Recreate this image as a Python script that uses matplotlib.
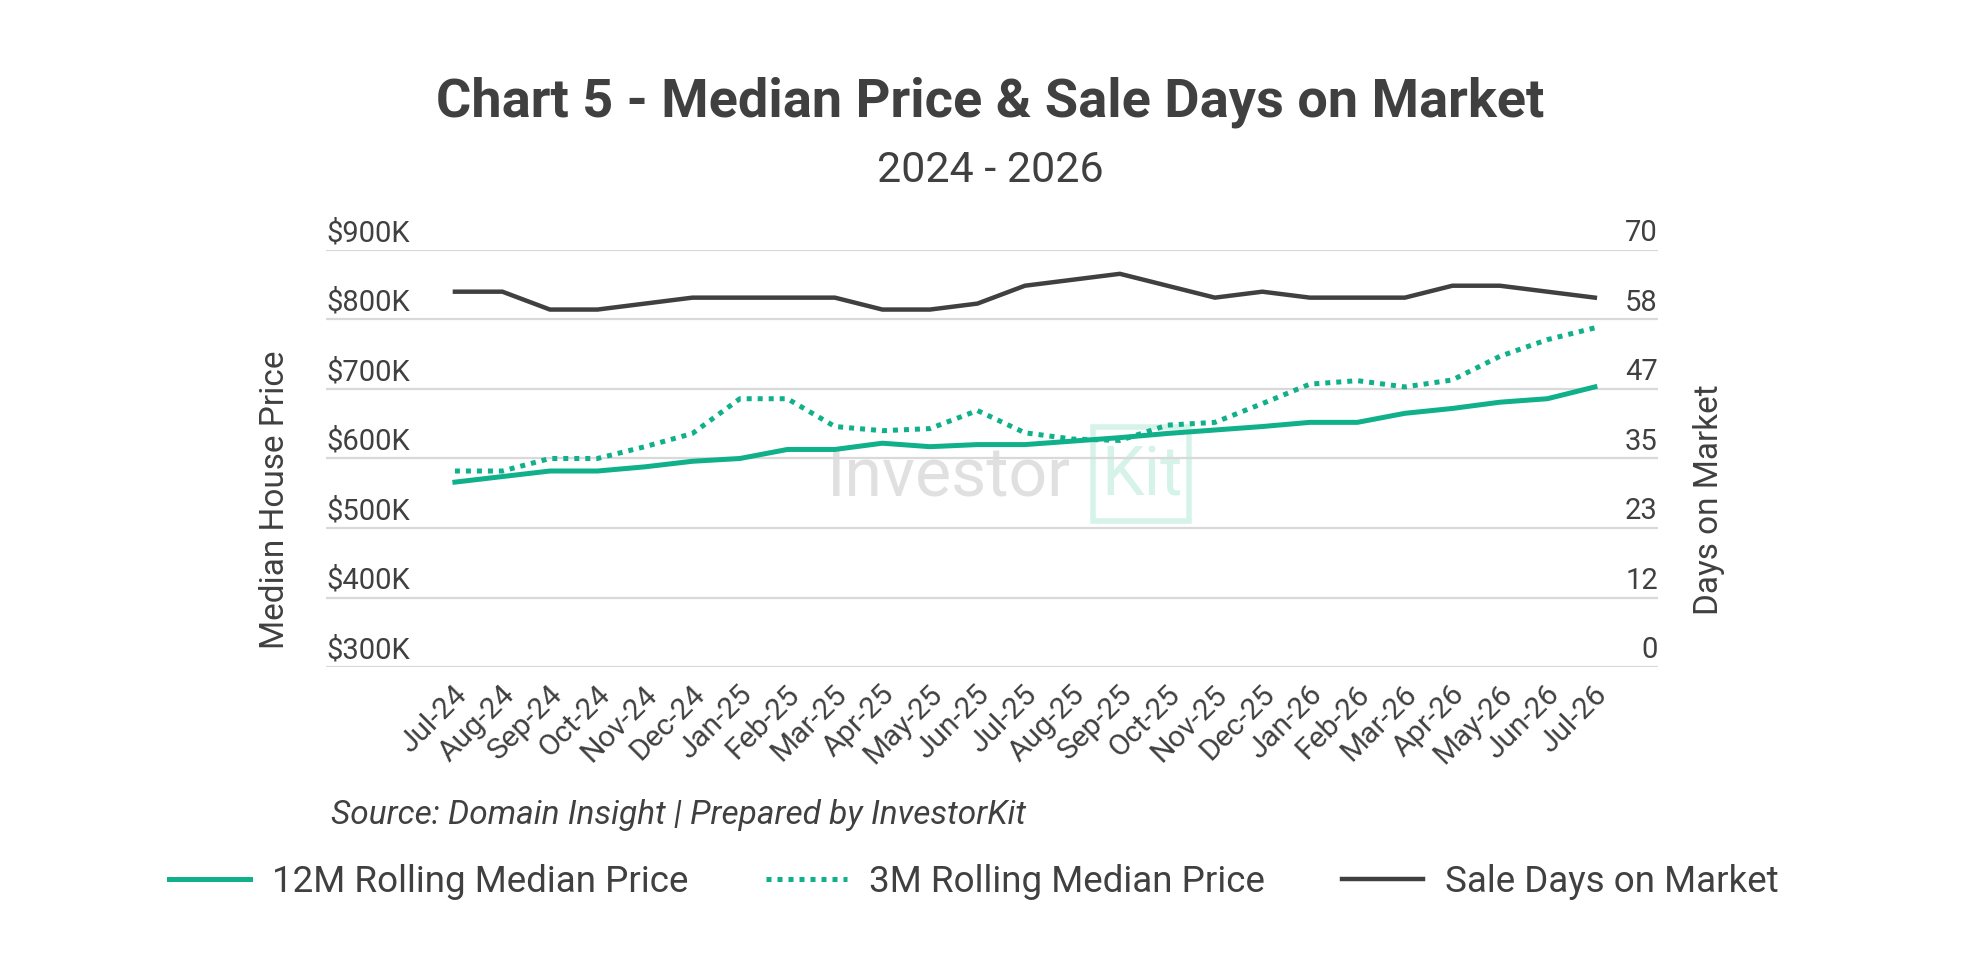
import numpy as np
import matplotlib
matplotlib.use('Agg')
import matplotlib.pyplot as plt
from matplotlib.patches import Rectangle
from matplotlib.transforms import ScaledTranslation

# Chart 5 - median price & days on market

plt.rcParams['font.family'] = ['Roboto', 'DejaVu Sans']

# Data (prices in $K, days on market)
months = ['Jul-24', 'Aug-24', 'Sep-24', 'Oct-24', 'Nov-24', 'Dec-24', 'Jan-25', 'Feb-25',
          'Mar-25', 'Apr-25', 'May-25', 'Jun-25', 'Jul-25', 'Aug-25', 'Sep-25', 'Oct-25',
          'Nov-25', 'Dec-25', 'Jan-26', 'Feb-26', 'Mar-26', 'Apr-26', 'May-26', 'Jun-26', 'Jul-26']
price_12m = [566, 574, 582, 582, 588, 596, 600, 613, 613, 622, 617, 620, 620,
             625, 630, 636, 641, 646, 652, 652, 665, 672, 681, 686, 703]
price_3m = [582, 582, 600, 600, 617, 636, 686, 686, 646, 640, 643, 669, 637,
            628, 626, 648, 652, 679, 707, 712, 703, 713, 747, 771, 788]
days_on_market = [63, 63, 60, 60, 61, 62, 62, 62, 62, 60, 60, 61, 64,
                  65, 66, 64, 62, 63, 62, 62, 62, 64, 64, 63, 62]

price_ticks = [300, 400, 500, 600, 700, 800, 900]
price_labels = ['$300K', '$400K', '$500K', '$600K', '$700K', '$800K', '$900K']
days_ticks = [0, 70/6, 140/6, 35, 280/6, 350/6, 70]
days_labels = ['0', '12', '23', '35', '47', '58', '70']

textColor = '#404040'
green = '#10b08a'
darkLine = '#404040'
gridColor = '#d9d9d9'

fig = plt.figure(figsize=(19.8, 9.6), dpi=100)
ax = fig.add_axes([0.1646, 0.3052, 0.6727, 0.4344])
ax2 = ax.twinx()

x = np.arange(len(months))
ax.set_xlim(-2.716, 25.326)
ax.set_ylim(300, 900)
ax2.set_ylim(0, 70)

# grid + axis styling
ax.set_yticks(price_ticks)
ax.yaxis.grid(True, color=gridColor, linewidth=1.6)
ax.set_axisbelow(True)
ax.tick_params(axis='y', length=0, labelleft=False)
ax2.set_yticks(days_ticks)
ax2.tick_params(axis='y', length=0, labelright=False)
ax.set_xticks(x)
ax.tick_params(axis='x', length=0, labelbottom=False)
for a in (ax, ax2):
    for s in a.spines.values():
        s.set_visible(False)

# tick labels sit on top of the gridlines
for v, lab in zip(price_ticks, price_labels):
    ax.text(0.0, v + 4, lab, transform=ax.get_yaxis_transform(), ha='left', va='bottom',
            fontsize=21, color=textColor)
for v, lab in zip(days_ticks, days_labels):
    ax2.text(1.0, v + 0.45, lab, transform=ax2.get_yaxis_transform(), ha='right', va='bottom',
             fontsize=21, color=textColor)

# rotated month labels
monthOffset = ax.get_xaxis_transform() + ScaledTranslation(8/100, -23/100, fig.dpi_scale_trans)
for i, lab in zip(x, months):
    ax.text(i, 0, lab, transform=monthOffset, rotation=45, rotation_mode='anchor',
            ha='right', va='center', fontsize=21.5, color=textColor)

# watermark
ax.text(0.376, 0.456, 'Investor', transform=ax.transAxes, fontsize=49, color='#e0e0e0',
        ha='left', va='center', zorder=0)
ax.add_patch(Rectangle((0.576, 0.35), 0.072, 0.226, transform=ax.transAxes, fill=False,
                       edgecolor='#d6f3ea', linewidth=4, zorder=0))
ax.text(0.613, 0.456, 'Kit', transform=ax.transAxes, fontsize=49, color='#d6f3ea',
        ha='center', va='center', zorder=0)

# lines
l12, = ax.plot(x, price_12m, color=green, linewidth=3.6, solid_joinstyle='round',
               label='12M Rolling Median Price', zorder=3)
l3, = ax.plot(x, price_3m, color=green, linewidth=3.6, linestyle=(0, (1, 1.2)),
              label='3M Rolling Median Price', zorder=3)
ld, = ax2.plot(x, days_on_market, color=darkLine, linewidth=3.2, solid_joinstyle='round',
               label='Sale Days on Market', zorder=3)

# titles and labels
fig.text(0.5, 0.894, 'Chart 5 - Median Price & Sale Days on Market', ha='center', va='center',
         fontsize=39, fontweight='bold', color=textColor)
fig.text(0.5, 0.822, '2024 - 2026', ha='center', va='center', fontsize=31, color=textColor)
fig.text(0.139, 0.479, 'Median House Price', rotation=90, ha='center', va='center',
         fontsize=24, color=textColor)
fig.text(0.863, 0.479, 'Days on Market', rotation=90, ha='center', va='center',
         fontsize=24, color=textColor)
fig.text(0.167, 0.151, 'Source: Domain Insight | Prepared by InvestorKit', ha='left',
         va='center', fontsize=24, style='italic', color=textColor)

fig.legend(handles=[l12, l3, ld], loc='center', bbox_to_anchor=(0.492, 0.081), ncol=3,
           frameon=False, fontsize=26.5, handlelength=2.2, handletextpad=0.6,
           columnspacing=2.1, labelcolor=textColor)

fig.savefig('out.png', dpi=100)
